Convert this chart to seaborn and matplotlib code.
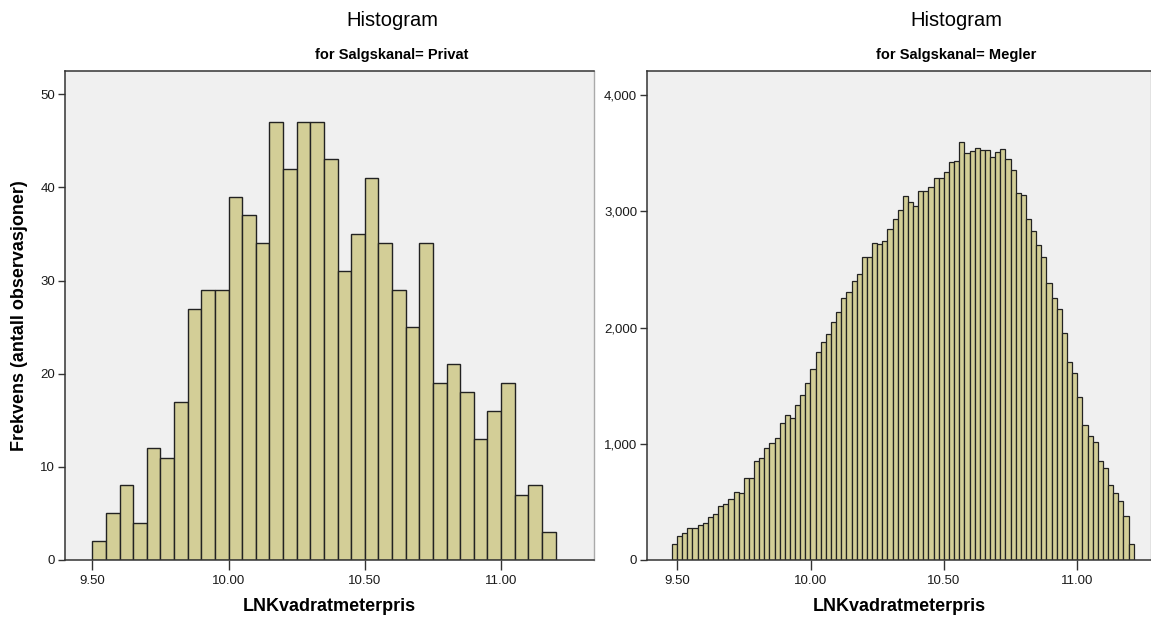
import numpy as np
import pandas as pd
import matplotlib
matplotlib.use("Agg")
import matplotlib.pyplot as plt
import matplotlib.ticker as mticker
import seaborn as sns

# ---------------- data ----------------
privat_start = 9.50
privat_width = 0.05
privat_counts = [2, 5, 8, 4, 12, 11, 17, 27, 29, 29, 39, 37, 34, 47, 42, 47, 47, 43,
                 31, 35, 41, 34, 29, 25, 34, 19, 21, 18, 13, 16, 19, 7, 8, 3]

megler_start = 9.4797
megler_width = 0.01926
megler_counts = [135, 206, 235, 272, 272, 301, 321, 372, 395, 464, 481, 524, 582, 579,
                 702, 708, 854, 874, 960, 1003, 1052, 1175, 1246, 1226, 1332, 1418,
                 1524, 1642, 1794, 1874, 1943, 2049, 2135, 2258, 2307, 2401, 2464,
                 2607, 2612, 2725, 2722, 2750, 2850, 2936, 3015, 3131, 3082, 3048,
                 3174, 3180, 3210, 3290, 3290, 3342, 3427, 3435, 3595, 3504, 3518,
                 3549, 3525, 3525, 3467, 3508, 3541, 3451, 3360, 3161, 3145, 2939,
                 2829, 2713, 2609, 2383, 2259, 2159, 1958, 1707, 1606, 1405, 1163,
                 1067, 1018, 850, 791, 645, 576, 507, 375, 140]

x_ticks = [9.50, 10.00, 10.50, 11.00]
privat_yticks = [0, 10, 20, 30, 40, 50]
megler_yticks = [0, 1000, 2000, 3000, 4000]

main_title = "Histogram"
sub_privat = "for Salgskanal= Privat"
sub_megler = "for Salgskanal= Megler"
x_label = "LNKvadratmeterpris"
y_label = "Frekvens (antall observasjoner)"

# ---------------- style ----------------
sns.set_style("ticks")
plt.rcParams["font.family"] = ["Liberation Sans", "DejaVu Sans"]
plt.rcParams["text.color"] = "black"
plt.rcParams["axes.labelcolor"] = "black"

BAR = "#D3CE97"
EDGE = "#222222"
BG = "#F0F0F0"
W, H = 1151, 618

fig = plt.figure(figsize=(W / 100, H / 100), dpi=100)
fig.patch.set_facecolor("white")

def frac(x0, y0, x1, y1):
    return [x0 / W, 1 - y1 / H, (x1 - x0) / W, (y1 - y0) / H]

ax1 = fig.add_axes(frac(65, 71, 594, 560))
ax2 = fig.add_axes(frac(647, 71, 1151, 560))

def make_df(start, width, counts):
    n = len(counts)
    edges = start + width * np.arange(n + 1)
    centers = edges[:-1] + width / 2
    return pd.DataFrame({"x": centers, "n": counts}), [float(e) for e in edges]

df1, e1 = make_df(privat_start, privat_width, privat_counts)
df2, e2 = make_df(megler_start, megler_width, megler_counts)

sns.histplot(data=df1, x="x", weights="n", bins=e1, ax=ax1, color=BAR,
             edgecolor=EDGE, linewidth=1.0, alpha=1)
sns.histplot(data=df2, x="x", weights="n", bins=e2, ax=ax2, color=BAR,
             edgecolor=EDGE, linewidth=0.9, alpha=1)

ax1.set_xlim(9.40, 11.341)
ax1.set_ylim(0, 52.5)
ax2.set_xlim(9.386, 11.278)
ax2.set_ylim(0, 4209)

for ax, yt in ((ax1, privat_yticks), (ax2, megler_yticks)):
    ax.set_facecolor(BG)
    ax.set_xticks(x_ticks)
    ax.set_yticks(yt)
    ax.xaxis.set_major_formatter(mticker.FormatStrFormatter("%.2f"))
    ax.tick_params(axis="x", length=7, width=1, color="#333333", pad=4,
                   labelsize=9.5, labelcolor="#1a1a1a")
    ax.tick_params(axis="y", length=5, width=1, color="#333333", pad=2,
                   labelsize=9.5, labelcolor="#1a1a1a")
    for s in ("left", "bottom", "top"):
        ax.spines[s].set_visible(True)
        ax.spines[s].set_color("#333333")
        ax.spines[s].set_linewidth(1.1)
    ax.spines["right"].set_visible(True)
    ax.spines["right"].set_color("#aaaaaa")
    ax.spines["right"].set_linewidth(1)
    ax.set_xlabel(x_label, fontsize=13, fontweight="bold", labelpad=8)
    ax.set_ylabel("")

ax2.yaxis.set_major_formatter(mticker.FuncFormatter(lambda v, p: f"{int(v):,}"))
ax1.set_ylabel(y_label, fontsize=13, fontweight="bold", labelpad=9)

fig.text(392 / W, 1 - 20 / H, main_title, ha="center", va="center", fontsize=14.5)
fig.text(392 / W, 1 - 55 / H, sub_privat, ha="center", va="center", fontsize=10.5,
         fontweight="bold")
fig.text(956 / W, 1 - 20 / H, main_title, ha="center", va="center", fontsize=14.5)
fig.text(956 / W, 1 - 55 / H, sub_megler, ha="center", va="center", fontsize=10.5,
         fontweight="bold")

fig.savefig("out.png", dpi=100, facecolor="white")
